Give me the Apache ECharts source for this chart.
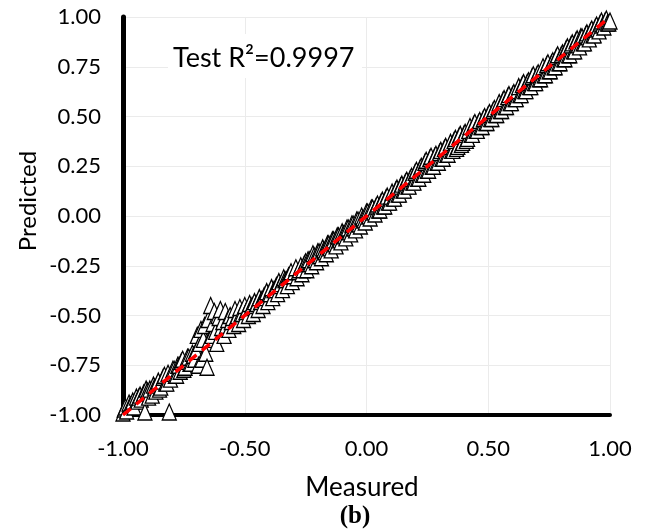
<!DOCTYPE html>
<html>
<head>
<meta charset="utf-8">
<script src="https://cdn.jsdelivr.net/npm/echarts@6/dist/echarts.min.js"></script>
<style>html,body{margin:0;padding:0;background:#fff}#c{width:646px;height:532px}</style>
</head>
<body>
<div id="c"></div>
<script>
const measured = [
-1.00,-0.99,-0.985,-0.975,-0.97,-0.96,-0.955,-0.945,-0.94,-0.93,-0.925,-0.915,-0.91,-0.90,-0.89,-0.88,-0.87,-0.86,-0.85,-0.84,
-0.83,-0.82,-0.81,-0.80,-0.79,-0.78,-0.77,-0.76,-0.75,-0.74,-0.73,-0.72,-0.71,-0.70,-0.69,-0.68,-0.675,-0.67,-0.66,-0.655,
-0.65,-0.64,-0.635,-0.63,-0.62,-0.61,-0.60,-0.59,-0.58,-0.57,-0.56,-0.55,-0.54,-0.53,-0.52,-0.51,-0.50,-0.49,-0.48,-0.47,
-0.46,-0.45,-0.44,-0.43,-0.42,-0.41,-0.40,-0.39,-0.38,-0.37,-0.36,-0.35,-0.34,-0.33,-0.32,-0.31,-0.30,-0.29,-0.28,-0.27,
-0.26,-0.25,-0.24,-0.23,-0.22,-0.21,-0.20,-0.19,-0.18,-0.17,-0.16,-0.15,-0.14,-0.13,-0.12,-0.11,-0.10,-0.09,-0.08,-0.07,
-0.06,-0.05,-0.04,-0.03,-0.02,-0.01,0.00,0.01,0.02,0.03,0.04,0.05,0.06,0.07,0.08,0.09,0.10,0.11,0.12,0.13,
0.14,0.15,0.16,0.17,0.18,0.19,0.20,0.21,0.22,0.23,0.24,0.25,0.26,0.27,0.28,0.29,0.30,0.31,0.32,0.33,
0.34,0.35,0.36,0.37,0.38,0.39,0.40,0.41,0.42,0.43,0.44,0.45,0.46,0.47,0.48,0.49,0.50,0.51,0.52,0.53,
0.54,0.55,0.56,0.57,0.58,0.59,0.60,0.61,0.62,0.63,0.64,0.65,0.66,0.67,0.68,0.69,0.70,0.71,0.72,0.73,
0.74,0.75,0.76,0.77,0.78,0.79,0.80,0.81,0.82,0.83,0.84,0.85,0.86,0.87,0.88,0.89,0.90,0.91,0.92,0.93,
0.94,0.95,0.96,0.97,0.98,0.99,1.00
];
const predicted = [
-0.99,-0.96,-0.98,-0.94,-0.95,-0.93,-0.96,-0.91,-0.93,-0.90,-0.92,-0.89,-0.985,-0.88,-0.87,-0.90,-0.86,-0.85,-0.87,-0.83,
-0.80,-0.84,-0.985,-0.79,-0.77,-0.80,-0.75,-0.73,-0.77,-0.73,-0.71,-0.74,-0.70,-0.68,-0.75,-0.57,-0.72,-0.62,-0.69,-0.76,
-0.52,-0.45,-0.60,-0.54,-0.58,-0.50,-0.47,-0.53,-0.48,-0.52,-0.50,-0.51,-0.47,-0.50,-0.46,-0.49,-0.45,-0.47,-0.44,-0.45,
-0.43,-0.44,-0.41,-0.42,-0.40,-0.38,-0.39,-0.36,-0.37,-0.35,-0.33,-0.34,-0.31,-0.32,-0.30,-0.28,-0.30,-0.26,-0.28,-0.25,
-0.27,-0.23,-0.22,-0.24,-0.19,-0.22,-0.18,-0.20,-0.16,-0.18,-0.14,-0.16,-0.12,-0.14,-0.10,-0.12,-0.08,-0.10,-0.06,-0.08,
-0.04,-0.06,-0.02,-0.04,0.00,-0.02,0.02,0.00,0.04,0.02,0.05,0.03,0.07,0.05,0.09,0.07,0.10,0.09,0.13,0.11,
0.15,0.13,0.17,0.15,0.19,0.17,0.22,0.19,0.24,0.21,0.27,0.23,0.29,0.25,0.30,0.27,0.32,0.29,0.34,0.31,
0.35,0.33,0.38,0.34,0.40,0.36,0.41,0.38,0.43,0.41,0.46,0.43,0.47,0.45,0.49,0.47,0.51,0.49,0.53,0.51,
0.55,0.53,0.58,0.55,0.60,0.57,0.61,0.59,0.63,0.61,0.66,0.63,0.67,0.65,0.70,0.67,0.71,0.69,0.73,0.71,
0.76,0.73,0.77,0.75,0.80,0.77,0.81,0.79,0.84,0.81,0.86,0.83,0.88,0.86,0.90,0.87,0.91,0.90,0.93,0.91,
0.95,0.94,0.97,0.96,0.98,0.97,0.98
];
const measured2 = [
-0.995,-0.965,-0.935,-0.905,-0.895,-0.875,-0.865,-0.855,-0.845,-0.835,-0.825,-0.815,-0.805,-0.795,-0.785,-0.775,-0.765,-0.755,-0.745,-0.735,
-0.725,-0.715,-0.705,-0.695,-0.685,-0.665,-0.645,-0.625,-0.615,-0.605,
-0.595,-0.585,-0.575,-0.565,-0.555,-0.545,-0.535,-0.525,-0.515,-0.505,-0.495,-0.485,-0.475,-0.465,-0.455,-0.445,-0.435,-0.425,-0.415,-0.405,
-0.395,-0.385,-0.375,-0.365,-0.355,-0.345,-0.335,-0.325,-0.315,-0.305,-0.295,-0.285,-0.275,-0.265,-0.255,-0.245,-0.235,-0.225,-0.215,-0.205,
-0.195,-0.185,-0.175,-0.165,-0.155,-0.145,-0.135,-0.125,-0.115,-0.105,-0.095,-0.085,-0.075,-0.065,-0.055,-0.045,-0.035,-0.025,-0.015,-0.005,
0.005,0.015,0.025,0.035,0.045,0.055,0.065,0.075,0.085,0.095,0.105,0.115,0.125,0.135,0.145,0.155,0.165,0.175,0.185,0.195,
0.205,0.215,0.225,0.235,0.245,0.255,0.265,0.275,0.285,0.295,0.305,0.315,0.325,0.335,0.345,0.355,0.365,0.375,0.385,0.395,
0.405,0.415,0.425,0.435,0.445,0.455,0.465,0.475,0.485,0.495,0.505,0.515,0.525,0.535,0.545,0.555,0.565,0.575,0.585,0.595,
0.605,0.615,0.625,0.635,0.645,0.655,0.665,0.675,0.685,0.695,0.705,0.715,0.725,0.735,0.745,0.755,0.765,0.775,0.785,0.795,
0.805,0.815,0.825,0.835,0.845,0.855,0.865,0.875,0.885,0.895,0.905,0.915,0.925,0.935,0.945,0.955,0.965,0.975,0.985,0.995
];
const predicted2 = [
-0.97,-0.95,-0.91,-0.87,-0.91,-0.85,-0.88,-0.83,-0.86,-0.81,-0.84,-0.79,-0.82,-0.77,-0.80,-0.75,-0.78,-0.72,-0.76,-0.71,
-0.74,-0.69,-0.72,-0.60,-0.64,-0.55,-0.62,-0.48,-0.64,-0.51,
-0.56,-0.60,-0.55,-0.57,-0.53,-0.55,-0.51,-0.54,-0.49,-0.52,-0.48,-0.50,-0.46,-0.49,-0.45,-0.47,-0.43,-0.45,-0.41,-0.43,
-0.39,-0.41,-0.37,-0.39,-0.35,-0.37,-0.32,-0.35,-0.30,-0.33,-0.28,-0.31,-0.27,-0.29,-0.24,-0.27,-0.22,-0.25,-0.20,-0.23,
-0.18,-0.21,-0.17,-0.19,-0.14,-0.17,-0.12,-0.15,-0.10,-0.13,-0.09,-0.11,-0.06,-0.09,-0.04,-0.07,-0.02,-0.05,-0.01,-0.03,
0.02,-0.01,0.04,0.01,0.06,0.03,0.08,0.05,0.10,0.07,0.12,0.09,0.14,0.11,0.16,0.13,0.18,0.15,0.20,0.17,
0.23,0.19,0.25,0.21,0.28,0.23,0.30,0.25,0.31,0.27,0.33,0.29,0.35,0.31,0.37,0.33,0.39,0.35,0.41,0.37,
0.42,0.39,0.45,0.41,0.47,0.43,0.48,0.45,0.50,0.47,0.52,0.49,0.54,0.51,0.57,0.53,0.59,0.55,0.61,0.57,
0.62,0.59,0.65,0.61,0.67,0.63,0.68,0.65,0.71,0.67,0.72,0.69,0.75,0.71,0.77,0.73,0.78,0.75,0.81,0.77,
0.82,0.79,0.85,0.81,0.87,0.83,0.89,0.85,0.90,0.87,0.92,0.89,0.94,0.91,0.96,0.93,0.98,0.95,0.99,0.97
];
const fitLine = [[-1, -1], [1, 1]];
const yTicks = ['-1.00','-0.75','-0.50','-0.25','0.00','0.25','0.50','0.75','1.00'];
const xTicks = ['-1.00','-0.50','0.00','0.50','1.00'];
const titleText = 'Test R\u00B2=0.9997';

const pts = [];
for (let i = 0; i < Math.min(measured.length, predicted.length); i++) pts.push([measured[i], predicted[i]]);
for (let i = 0; i < Math.min(measured2.length, predicted2.length); i++) pts.push([measured2[i], predicted2[i]]);
pts.sort((a, b) => a[0] - b[0]);

const chart = echarts.init(document.getElementById('c'), null, {renderer: 'canvas'});
const FONT = 'Lato';
chart.setOption({
  animation: false,
  backgroundColor: '#fff',
  grid: {left: 123, right: 36, top: 17, bottom: 117, containLabel: false},
  xAxis: {
    type: 'value', min: -1, max: 1, interval: 0.5,
    axisLine: {onZero: false, lineStyle: {color: '#000', width: 4}},
    axisTick: {show: false},
    splitLine: {lineStyle: {color: '#ebebeb', width: 1}},
    axisLabel: {color: '#000', fontFamily: FONT, fontSize: 22, margin: 23,
      formatter: v => xTicks[Math.round((v + 1) / 0.5)]}
  },
  yAxis: {
    type: 'value', min: -1, max: 1, interval: 0.25,
    axisLine: {onZero: false, lineStyle: {color: '#000', width: 5}},
    axisTick: {show: false},
    splitLine: {lineStyle: {color: '#ebebeb', width: 1}},
    axisLabel: {color: '#000', fontFamily: FONT, fontSize: 22, margin: 22,
      formatter: v => yTicks[Math.round((v + 1) / 0.25)]}
  },
  series: [
    {
      type: 'scatter', data: pts, symbol: 'triangle', symbolSize: [14, 16],
      itemStyle: {color: '#fff', borderColor: '#000', borderWidth: 1.3, opacity: 1},
      z: 2
    },
    {
      type: 'line', data: fitLine, symbol: 'none',
      lineStyle: {color: '#ff0000', width: 3.5, type: [10, 7]},
      z: 3
    }
  ],
  graphic: [
    {type: 'rect', shape: {x: 168, y: 34, width: 194, height: 44}, style: {fill: '#fff'}, z: 10},
    {type: 'text', x: 173, y: 58, style: {text: titleText, font: '27px Lato', fill: '#000', textAlign: 'left', textVerticalAlign: 'middle'}, z: 11},
    {type: 'text', x: 362, y: 488, style: {text: 'Measured', font: '26px Lato', fill: '#000', textAlign: 'center', textVerticalAlign: 'middle'}, z: 11},
    {type: 'text', x: 355, y: 517, style: {text: '(b)', font: 'bold 25px "Liberation Serif"', fill: '#000', textAlign: 'center', textVerticalAlign: 'middle'}, z: 11},
    {type: 'text', x: 28, y: 201, rotation: Math.PI / 2,
      style: {text: 'Predicted', font: '24px Lato', fill: '#000', textAlign: 'center', textVerticalAlign: 'middle'}, z: 11}
  ]
});
</script>
</body>
</html>
